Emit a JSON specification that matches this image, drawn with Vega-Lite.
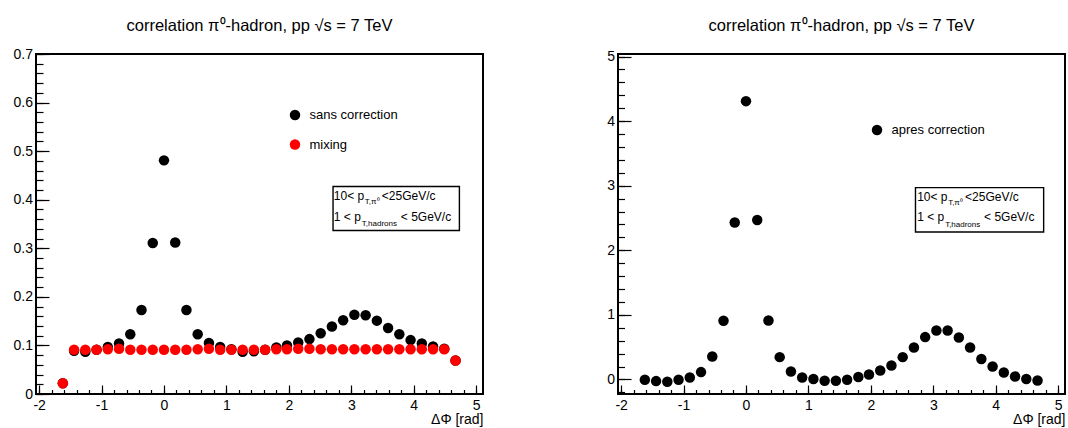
{
  "$schema": "https://vega.github.io/schema/vega-lite/v6.json",
  "padding": {"left": 12, "top": 16, "right": 5, "bottom": 0},
  "config": {
    "font": "Liberation Sans",
    "view": {"stroke": "black", "strokeWidth": 2},
    "axis": {"labelColor": "black", "tickColor": "black", "titleColor": "black", "labelFont": "Liberation Sans", "titleFont": "Liberation Sans", "domain": false, "grid": false, "labelFontSize": 14, "tickWidth": 1.2, "labelOverlap": false, "labelFlush": false, "labelBound": false},
    "title": {"font": "Liberation Sans", "fontSize": 16.5, "fontWeight": "normal", "color": "black", "anchor": "middle"},
    "legend": {"labelFont": "Liberation Sans", "labelColor": "black", "labelFontSize": 13, "labelOffset": 8, "rowPadding": 15.5, "symbolSize": 110, "symbolType": "circle", "padding": 0, "symbolStrokeWidth": 0}
  },
  "datasets": {
    "left": [
      {"dphi": -1.62, "y": 0.022, "series": "sans correction"},
      {"dphi": -1.44, "y": 0.089, "series": "sans correction"},
      {"dphi": -1.26, "y": 0.087, "series": "sans correction"},
      {"dphi": -1.08, "y": 0.091, "series": "sans correction"},
      {"dphi": -0.90, "y": 0.097, "series": "sans correction"},
      {"dphi": -0.72, "y": 0.104, "series": "sans correction"},
      {"dphi": -0.54, "y": 0.123, "series": "sans correction"},
      {"dphi": -0.36, "y": 0.173, "series": "sans correction"},
      {"dphi": -0.18, "y": 0.311, "series": "sans correction"},
      {"dphi": 0.0, "y": 0.481, "series": "sans correction"},
      {"dphi": 0.18, "y": 0.312, "series": "sans correction"},
      {"dphi": 0.36, "y": 0.173, "series": "sans correction"},
      {"dphi": 0.54, "y": 0.123, "series": "sans correction"},
      {"dphi": 0.72, "y": 0.105, "series": "sans correction"},
      {"dphi": 0.90, "y": 0.097, "series": "sans correction"},
      {"dphi": 1.08, "y": 0.092, "series": "sans correction"},
      {"dphi": 1.26, "y": 0.087, "series": "sans correction"},
      {"dphi": 1.44, "y": 0.088, "series": "sans correction"},
      {"dphi": 1.62, "y": 0.091, "series": "sans correction"},
      {"dphi": 1.80, "y": 0.096, "series": "sans correction"},
      {"dphi": 1.97, "y": 0.100, "series": "sans correction"},
      {"dphi": 2.15, "y": 0.106, "series": "sans correction"},
      {"dphi": 2.33, "y": 0.113, "series": "sans correction"},
      {"dphi": 2.51, "y": 0.125, "series": "sans correction"},
      {"dphi": 2.69, "y": 0.139, "series": "sans correction"},
      {"dphi": 2.87, "y": 0.152, "series": "sans correction"},
      {"dphi": 3.05, "y": 0.163, "series": "sans correction"},
      {"dphi": 3.23, "y": 0.162, "series": "sans correction"},
      {"dphi": 3.41, "y": 0.151, "series": "sans correction"},
      {"dphi": 3.59, "y": 0.136, "series": "sans correction"},
      {"dphi": 3.77, "y": 0.123, "series": "sans correction"},
      {"dphi": 3.95, "y": 0.111, "series": "sans correction"},
      {"dphi": 4.13, "y": 0.104, "series": "sans correction"},
      {"dphi": 4.31, "y": 0.098, "series": "sans correction"},
      {"dphi": 4.49, "y": 0.093, "series": "sans correction"},
      {"dphi": 4.67, "y": 0.069, "series": "sans correction"},
      {"dphi": -1.62, "y": 0.022, "series": "mixing"},
      {"dphi": -1.44, "y": 0.091, "series": "mixing"},
      {"dphi": -1.26, "y": 0.091, "series": "mixing"},
      {"dphi": -1.08, "y": 0.091, "series": "mixing"},
      {"dphi": -0.90, "y": 0.092, "series": "mixing"},
      {"dphi": -0.72, "y": 0.093, "series": "mixing"},
      {"dphi": -0.54, "y": 0.091, "series": "mixing"},
      {"dphi": -0.36, "y": 0.091, "series": "mixing"},
      {"dphi": -0.18, "y": 0.091, "series": "mixing"},
      {"dphi": 0.0, "y": 0.091, "series": "mixing"},
      {"dphi": 0.18, "y": 0.091, "series": "mixing"},
      {"dphi": 0.36, "y": 0.091, "series": "mixing"},
      {"dphi": 0.54, "y": 0.092, "series": "mixing"},
      {"dphi": 0.72, "y": 0.093, "series": "mixing"},
      {"dphi": 0.90, "y": 0.091, "series": "mixing"},
      {"dphi": 1.08, "y": 0.091, "series": "mixing"},
      {"dphi": 1.26, "y": 0.091, "series": "mixing"},
      {"dphi": 1.44, "y": 0.091, "series": "mixing"},
      {"dphi": 1.62, "y": 0.091, "series": "mixing"},
      {"dphi": 1.80, "y": 0.092, "series": "mixing"},
      {"dphi": 1.97, "y": 0.092, "series": "mixing"},
      {"dphi": 2.15, "y": 0.093, "series": "mixing"},
      {"dphi": 2.33, "y": 0.093, "series": "mixing"},
      {"dphi": 2.51, "y": 0.092, "series": "mixing"},
      {"dphi": 2.69, "y": 0.092, "series": "mixing"},
      {"dphi": 2.87, "y": 0.092, "series": "mixing"},
      {"dphi": 3.05, "y": 0.092, "series": "mixing"},
      {"dphi": 3.23, "y": 0.092, "series": "mixing"},
      {"dphi": 3.41, "y": 0.092, "series": "mixing"},
      {"dphi": 3.59, "y": 0.092, "series": "mixing"},
      {"dphi": 3.77, "y": 0.092, "series": "mixing"},
      {"dphi": 3.95, "y": 0.092, "series": "mixing"},
      {"dphi": 4.13, "y": 0.092, "series": "mixing"},
      {"dphi": 4.31, "y": 0.092, "series": "mixing"},
      {"dphi": 4.49, "y": 0.092, "series": "mixing"},
      {"dphi": 4.67, "y": 0.069, "series": "mixing"}
    ],
    "right": [
      {"dphi": -1.62, "y": -0.005, "series": "apres correction"},
      {"dphi": -1.44, "y": -0.025, "series": "apres correction"},
      {"dphi": -1.26, "y": -0.035, "series": "apres correction"},
      {"dphi": -1.08, "y": -0.005, "series": "apres correction"},
      {"dphi": -0.90, "y": 0.03, "series": "apres correction"},
      {"dphi": -0.72, "y": 0.114, "series": "apres correction"},
      {"dphi": -0.54, "y": 0.356, "series": "apres correction"},
      {"dphi": -0.36, "y": 0.91, "series": "apres correction"},
      {"dphi": -0.18, "y": 2.43, "series": "apres correction"},
      {"dphi": 0.0, "y": 4.31, "series": "apres correction"},
      {"dphi": 0.18, "y": 2.47, "series": "apres correction"},
      {"dphi": 0.36, "y": 0.913, "series": "apres correction"},
      {"dphi": 0.54, "y": 0.346, "series": "apres correction"},
      {"dphi": 0.72, "y": 0.124, "series": "apres correction"},
      {"dphi": 0.90, "y": 0.031, "series": "apres correction"},
      {"dphi": 1.08, "y": 0.006, "series": "apres correction"},
      {"dphi": 1.26, "y": -0.02, "series": "apres correction"},
      {"dphi": 1.44, "y": -0.02, "series": "apres correction"},
      {"dphi": 1.62, "y": -0.005, "series": "apres correction"},
      {"dphi": 1.80, "y": 0.037, "series": "apres correction"},
      {"dphi": 1.97, "y": 0.078, "series": "apres correction"},
      {"dphi": 2.15, "y": 0.14, "series": "apres correction"},
      {"dphi": 2.33, "y": 0.217, "series": "apres correction"},
      {"dphi": 2.51, "y": 0.346, "series": "apres correction"},
      {"dphi": 2.69, "y": 0.495, "series": "apres correction"},
      {"dphi": 2.87, "y": 0.656, "series": "apres correction"},
      {"dphi": 3.05, "y": 0.758, "series": "apres correction"},
      {"dphi": 3.23, "y": 0.758, "series": "apres correction"},
      {"dphi": 3.41, "y": 0.65, "series": "apres correction"},
      {"dphi": 3.59, "y": 0.495, "series": "apres correction"},
      {"dphi": 3.77, "y": 0.316, "series": "apres correction"},
      {"dphi": 3.95, "y": 0.2, "series": "apres correction"},
      {"dphi": 4.13, "y": 0.108, "series": "apres correction"},
      {"dphi": 4.31, "y": 0.046, "series": "apres correction"},
      {"dphi": 4.49, "y": 0.006, "series": "apres correction"},
      {"dphi": 4.67, "y": -0.015, "series": "apres correction"}
    ]
  },
  "spacing": 135,
  "bounds": "flush",
  "resolve": {"scale": {"color": "independent"}, "legend": {"color": "independent"}},
  "hconcat": [
    {
      "width": 447,
      "height": 340,
      "title": {"text": "correlation π⁰-hadron, pp √s = 7 TeV", "offset": 13},
      "resolve": {"axis": {"x": "independent", "y": "independent"}},
      "layer": [
        {
          "data": {"name": "left"},
          "mark": {"type": "circle", "size": 110, "opacity": 1},
          "encoding": {
            "x": {"field": "dphi", "type": "quantitative", "scale": {"domain": [-2.05, 5.11], "nice": false, "zero": false},
              "axis": {"orient": "bottom", "values": [-2, -1, 0, 1, 2, 3, 4, 5], "labelExpr": "datum.value + ''", "tickSize": -9, "labelPadding": 13, "title": "ΔΦ [rad]", "titleAnchor": "end", "titleAlign": "right", "titleBaseline": "middle", "titleX": 447, "titleY": 25, "titleFontSize": 14, "titleFontWeight": "normal"}},
            "y": {"field": "y", "type": "quantitative", "scale": {"domain": [0, 0.7], "nice": false, "zero": false},
              "axis": {"orient": "left", "values": [0, 0.1, 0.2, 0.3, 0.4, 0.5, 0.6, 0.7], "labelExpr": "datum.value == 0 ? '0' : format(datum.value, '.1f')", "tickSize": -13, "labelPadding": 16.5, "title": null}},
            "color": {"field": "series", "type": "nominal", "sort": null,
              "scale": {"domain": ["sans correction", "mixing"], "range": ["#000000", "#ff0000"]},
              "legend": {"orient": "none", "legendX": 252.5, "legendY": 54.5, "title": null}}
          }
        },
        {
          "data": {"name": "left"},
          "mark": {"type": "circle", "opacity": 0},
          "encoding": {
            "x": {"field": "dphi", "type": "quantitative", "scale": {"domain": [-2.05, 5.11], "nice": false, "zero": false},
              "axis": {"orient": "bottom", "tickCount": 36, "labels": false, "tickSize": -4.5, "title": null}},
            "y": {"field": "y", "type": "quantitative", "scale": {"domain": [0, 0.7], "nice": false, "zero": false},
              "axis": {"orient": "left", "tickCount": 35, "labels": false, "tickSize": -7, "title": null}}
          }
        },
        {
          "data": {"values": [{"box": "cuts"}]},
          "mark": {"type": "rect", "fill": "white", "stroke": "black", "strokeWidth": 1.4},
          "encoding": {
            "x": {"datum": 2.708, "type": "quantitative", "scale": {"domain": [-2.05, 5.11], "nice": false, "zero": false}, "axis": null},
            "x2": {"datum": 4.732},
            "y": {"datum": 0.4272, "type": "quantitative", "scale": {"domain": [0, 0.7], "nice": false, "zero": false}, "axis": null},
            "y2": {"datum": 0.3366}
          }
        },
        {
          "data": {"values": [{"t": "10< p"}]},
          "mark": {"type": "text", "align": "left", "baseline": "alphabetic", "fontSize": 12, "color": "black"},
          "encoding": {"text": {"field": "t"},
            "x": {"datum": 2.72, "type": "quantitative", "scale": {"domain": [-2.05, 5.11], "nice": false, "zero": false}, "axis": null},
            "y": {"datum": 0.3988, "type": "quantitative", "scale": {"domain": [0, 0.7], "nice": false, "zero": false}, "axis": null}}
        },
        {
          "data": {"values": [{"t": "T,π⁰"}]},
          "mark": {"type": "text", "align": "left", "baseline": "alphabetic", "fontSize": 8, "color": "black"},
          "encoding": {"text": {"field": "t"},
            "x": {"datum": 3.217, "type": "quantitative", "scale": {"domain": [-2.05, 5.11], "nice": false, "zero": false}, "axis": null},
            "y": {"datum": 0.3916, "type": "quantitative", "scale": {"domain": [0, 0.7], "nice": false, "zero": false}, "axis": null}}
        },
        {
          "data": {"values": [{"t": "<25GeV/c"}]},
          "mark": {"type": "text", "align": "left", "baseline": "alphabetic", "fontSize": 12, "color": "black"},
          "encoding": {"text": {"field": "t"},
            "x": {"datum": 3.49, "type": "quantitative", "scale": {"domain": [-2.05, 5.11], "nice": false, "zero": false}, "axis": null},
            "y": {"datum": 0.3988, "type": "quantitative", "scale": {"domain": [0, 0.7], "nice": false, "zero": false}, "axis": null}}
        },
        {
          "data": {"values": [{"t": "1 < p"}]},
          "mark": {"type": "text", "align": "left", "baseline": "alphabetic", "fontSize": 12, "color": "black"},
          "encoding": {"text": {"field": "t"},
            "x": {"datum": 2.72, "type": "quantitative", "scale": {"domain": [-2.05, 5.11], "nice": false, "zero": false}, "axis": null},
            "y": {"datum": 0.3572, "type": "quantitative", "scale": {"domain": [0, 0.7], "nice": false, "zero": false}, "axis": null}}
        },
        {
          "data": {"values": [{"t": "T,hadrons"}]},
          "mark": {"type": "text", "align": "left", "baseline": "alphabetic", "fontSize": 8, "color": "black"},
          "encoding": {"text": {"field": "t"},
            "x": {"datum": 3.169, "type": "quantitative", "scale": {"domain": [-2.05, 5.11], "nice": false, "zero": false}, "axis": null},
            "y": {"datum": 0.3453, "type": "quantitative", "scale": {"domain": [0, 0.7], "nice": false, "zero": false}, "axis": null}}
        },
        {
          "data": {"values": [{"t": "< 5GeV/c"}]},
          "mark": {"type": "text", "align": "left", "baseline": "alphabetic", "fontSize": 12, "color": "black"},
          "encoding": {"text": {"field": "t"},
            "x": {"datum": 3.794, "type": "quantitative", "scale": {"domain": [-2.05, 5.11], "nice": false, "zero": false}, "axis": null},
            "y": {"datum": 0.3572, "type": "quantitative", "scale": {"domain": [0, 0.7], "nice": false, "zero": false}, "axis": null}}
        }
      ]
    },
    {
      "width": 447,
      "height": 340,
      "title": {"text": "correlation π⁰-hadron, pp √s = 7 TeV", "offset": 15.5},
      "resolve": {"axis": {"x": "independent", "y": "independent"}},
      "layer": [
        {
          "data": {"name": "right"},
          "mark": {"type": "circle", "size": 110, "opacity": 1},
          "encoding": {
            "x": {"field": "dphi", "type": "quantitative", "scale": {"domain": [-2.05, 5.11], "nice": false, "zero": false},
              "axis": {"orient": "bottom", "values": [-2, -1, 0, 1, 2, 3, 4, 5], "labelExpr": "datum.value + ''", "tickSize": -9, "labelPadding": 13, "title": "ΔΦ [rad]", "titleAnchor": "end", "titleAlign": "right", "titleBaseline": "middle", "titleX": 447, "titleY": 25, "titleFontSize": 14, "titleFontWeight": "normal"}},
            "y": {"field": "y", "type": "quantitative", "scale": {"domain": [-0.225, 5.04], "nice": false, "zero": false},
              "axis": {"orient": "left", "values": [0, 1, 2, 3, 4, 5], "labelExpr": "datum.value + ''", "tickSize": -13, "labelPadding": 16.5, "title": null}},
            "color": {"field": "series", "type": "nominal",
              "scale": {"domain": ["apres correction"], "range": ["#000000"]},
              "legend": {"orient": "none", "legendX": 252.5, "legendY": 69.5, "title": null}}
          }
        },
        {
          "data": {"name": "right"},
          "mark": {"type": "circle", "opacity": 0},
          "encoding": {
            "x": {"field": "dphi", "type": "quantitative", "scale": {"domain": [-2.05, 5.11], "nice": false, "zero": false},
              "axis": {"orient": "bottom", "tickCount": 36, "labels": false, "tickSize": -4.5, "title": null}},
            "y": {"field": "y", "type": "quantitative", "scale": {"domain": [-0.225, 5.04], "nice": false, "zero": false},
              "axis": {"orient": "left", "tickCount": 26, "labels": false, "tickSize": -6.5, "title": null}}
          }
        },
        {
          "data": {"values": [{"box": "cuts"}]},
          "mark": {"type": "rect", "fill": "white", "stroke": "black", "strokeWidth": 1.4},
          "encoding": {
            "x": {"datum": 2.715, "type": "quantitative", "scale": {"domain": [-2.05, 5.11], "nice": false, "zero": false}, "axis": null},
            "x2": {"datum": 4.768},
            "y": {"datum": 2.971, "type": "quantitative", "scale": {"domain": [-0.225, 5.04], "nice": false, "zero": false}, "axis": null},
            "y2": {"datum": 2.284}
          }
        },
        {
          "data": {"values": [{"t": "10< p"}]},
          "mark": {"type": "text", "align": "left", "baseline": "alphabetic", "fontSize": 12, "color": "black"},
          "encoding": {"text": {"field": "t"},
            "x": {"datum": 2.742, "type": "quantitative", "scale": {"domain": [-2.05, 5.11], "nice": false, "zero": false}, "axis": null},
            "y": {"datum": 2.759, "type": "quantitative", "scale": {"domain": [-0.225, 5.04], "nice": false, "zero": false}, "axis": null}}
        },
        {
          "data": {"values": [{"t": "T,π⁰"}]},
          "mark": {"type": "text", "align": "left", "baseline": "alphabetic", "fontSize": 8, "color": "black"},
          "encoding": {"text": {"field": "t"},
            "x": {"datum": 3.238, "type": "quantitative", "scale": {"domain": [-2.05, 5.11], "nice": false, "zero": false}, "axis": null},
            "y": {"datum": 2.705, "type": "quantitative", "scale": {"domain": [-0.225, 5.04], "nice": false, "zero": false}, "axis": null}}
        },
        {
          "data": {"values": [{"t": "<25GeV/c"}]},
          "mark": {"type": "text", "align": "left", "baseline": "alphabetic", "fontSize": 12, "color": "black"},
          "encoding": {"text": {"field": "t"},
            "x": {"datum": 3.51, "type": "quantitative", "scale": {"domain": [-2.05, 5.11], "nice": false, "zero": false}, "axis": null},
            "y": {"datum": 2.759, "type": "quantitative", "scale": {"domain": [-0.225, 5.04], "nice": false, "zero": false}, "axis": null}}
        },
        {
          "data": {"values": [{"t": "1 < p"}]},
          "mark": {"type": "text", "align": "left", "baseline": "alphabetic", "fontSize": 12, "color": "black"},
          "encoding": {"text": {"field": "t"},
            "x": {"datum": 2.742, "type": "quantitative", "scale": {"domain": [-2.05, 5.11], "nice": false, "zero": false}, "axis": null},
            "y": {"datum": 2.447, "type": "quantitative", "scale": {"domain": [-0.225, 5.04], "nice": false, "zero": false}, "axis": null}}
        },
        {
          "data": {"values": [{"t": "T,hadrons"}]},
          "mark": {"type": "text", "align": "left", "baseline": "alphabetic", "fontSize": 8, "color": "black"},
          "encoding": {"text": {"field": "t"},
            "x": {"datum": 3.19, "type": "quantitative", "scale": {"domain": [-2.05, 5.11], "nice": false, "zero": false}, "axis": null},
            "y": {"datum": 2.357, "type": "quantitative", "scale": {"domain": [-0.225, 5.04], "nice": false, "zero": false}, "axis": null}}
        },
        {
          "data": {"values": [{"t": "< 5GeV/c"}]},
          "mark": {"type": "text", "align": "left", "baseline": "alphabetic", "fontSize": 12, "color": "black"},
          "encoding": {"text": {"field": "t"},
            "x": {"datum": 3.814, "type": "quantitative", "scale": {"domain": [-2.05, 5.11], "nice": false, "zero": false}, "axis": null},
            "y": {"datum": 2.447, "type": "quantitative", "scale": {"domain": [-0.225, 5.04], "nice": false, "zero": false}, "axis": null}}
        }
      ]
    }
  ]
}
